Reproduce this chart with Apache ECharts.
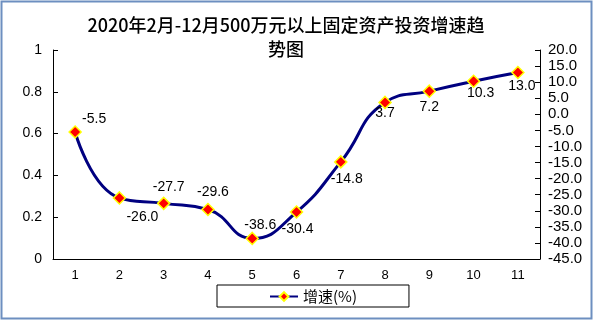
<!DOCTYPE html>
<html>
<head>
<meta charset="utf-8">
<script src="https://cdn.jsdelivr.net/npm/echarts@6/dist/echarts.min.js"></script>
<style>
  html, body { margin: 0; padding: 0; background: #fff; }
  #chart { width: 594px; height: 322px; }
</style>
</head>
<body>
<div id="chart"></div>
<script>
// Months (Feb–Dec 2020 shown as 1..11) and growth rate in percent
const categories = ['1', '2', '3', '4', '5', '6', '7', '8', '9', '10', '11'];
const growthRate = [-5.5, -26.0, -27.7, -29.6, -38.6, -30.4, -14.8, 3.7, 7.2, 10.3, 13.0];
const seriesName = '增速(%)';
const titleText = '2020年2月-12月500万元以上固定资产投资增速趋\n势图';

// Label placement around each marker (pixel offsets from marker centre)
const labelOffsets = [
  [19, -13], [23, 19], [5, -16], [5, -17], [8, -13], [1, 17],
  [6, 17], [0, 11], [0, 16], [7, 12], [4, 14]
];

const chart = echarts.init(document.getElementById('chart'), null, { renderer: 'canvas' });

const seriesData = growthRate.map((v, i) => ({
  value: v,
  label: { offset: labelOffsets[i] }
}));

const axisFont = { color: '#000', fontFamily: 'Liberation Sans, Arial, sans-serif' };

chart.setOption({
  animation: false,
  title: {
    text: titleText,
    left: 281,
    textAlign: 'center',
    top: 8,
    textStyle: {
      fontFamily: 'Noto Sans CJK SC',
      fontSize: 18,
      fontWeight: 500,
      color: '#000',
      lineHeight: 24
    }
  },
  legend: {
    data: [seriesName],
    left: 217,
    top: 285,
    padding: [4, 52, 3, 52],
    borderColor: '#000',
    borderWidth: 1,
    itemWidth: 28,
    itemHeight: 11,
    itemGap: 5,
    textStyle: { fontFamily: 'Noto Sans CJK SC', fontSize: 15, color: '#000' }
  },
  grid: { left: 53, right: 54, top: 50, bottom: 63 },
  xAxis: {
    type: 'category',
    data: categories,
    boundaryGap: true,
    axisLine: { lineStyle: { color: '#000', width: 1 } },
    axisTick: { inside: true, length: 5, lineStyle: { color: '#000' } },
    axisLabel: Object.assign({ fontSize: 13, margin: 10 }, axisFont),
    splitLine: { show: false }
  },
  yAxis: [
    {
      type: 'value',
      min: 0,
      max: 1,
      interval: 0.2,
      position: 'left',
      axisLine: { show: true, lineStyle: { color: '#000' } },
      axisTick: { show: true, inside: true, length: 5, lineStyle: { color: '#000' } },
      axisLabel: Object.assign({ fontSize: 14, margin: 11 }, axisFont),
      splitLine: { show: false }
    },
    {
      type: 'value',
      min: -45,
      max: 20,
      interval: 5,
      position: 'right',
      axisLine: { show: true, lineStyle: { color: '#000' } },
      axisTick: { show: true, inside: true, length: 5, lineStyle: { color: '#000' } },
      axisLabel: Object.assign({
        fontSize: 15,
        margin: 8,
        formatter: v => v.toFixed(1)
      }, axisFont),
      splitLine: { show: false }
    }
  ],
  series: [
    {
      name: seriesName,
      type: 'line',
      yAxisIndex: 1,
      data: seriesData,
      smooth: 0.5,
      symbol: 'diamond',
      symbolSize: 12,
      lineStyle: { color: '#000080', width: 3 },
      itemStyle: { color: '#ff0000', borderColor: '#ffff00', borderWidth: 1.5 },
      label: {
        show: true,
        position: 'inside',
        align: 'center',
        verticalAlign: 'middle',
        fontSize: 14,
        color: '#000',
        fontFamily: 'Liberation Sans, Arial, sans-serif',
        formatter: p => p.value.toFixed(1)
      },
      emphasis: { disabled: true }
    }
  ],
  graphic: [
    {
      type: 'rect',
      silent: true,
      shape: { x: 1.5, y: 1.5, width: 590, height: 317 },
      style: { fill: null, stroke: '#6d8fc0', lineWidth: 2 }
    }
  ]
});
</script>
</body>
</html>
